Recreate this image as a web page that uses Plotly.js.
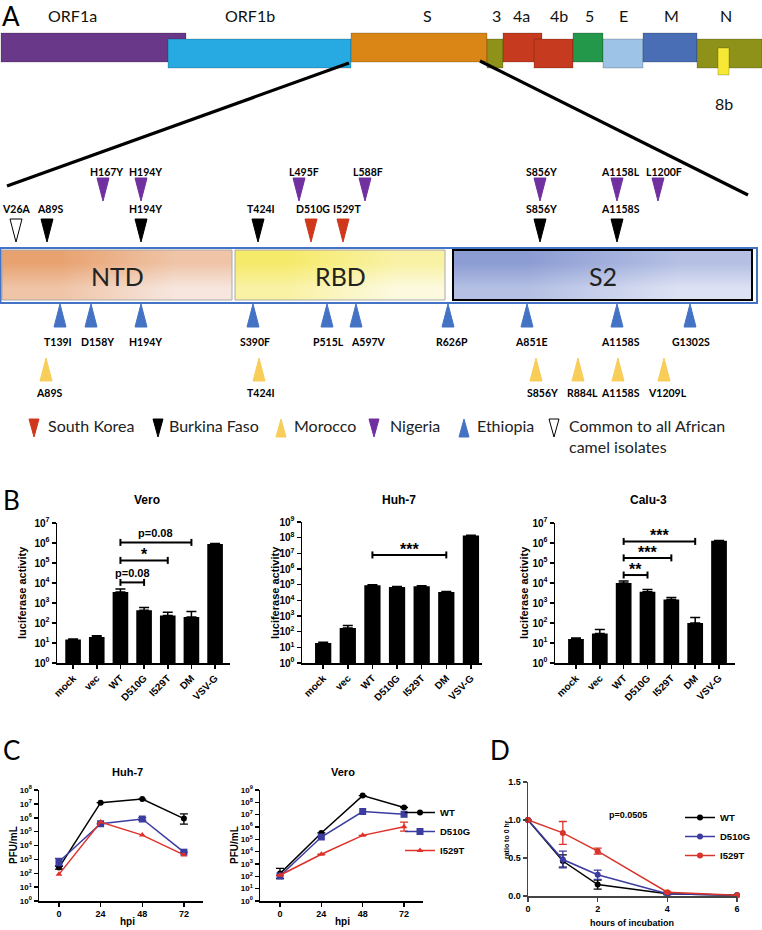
<!DOCTYPE html>
<html><head><meta charset="utf-8">
<script src="https://cdn.plot.ly/plotly-3.0.1.min.js"></script>
<style>body{margin:0;padding:0;background:#fff}#chart{width:762px;height:930px}</style>
</head><body><div id="chart"></div>
<script>
// ================= DATA =================
// Panel A: genome schematic (schematic units along the drawing)
const genes      = ['ORF1a','ORF1b','S','3','4a','4b','5','E','M','N','8b'];
const geneStart  = [1, 168, 351, 487, 503, 534, 573, 603, 643, 697, 718];
const geneEnd    = [186, 351, 487, 503, 542, 573, 603, 643, 697, 762, 729];
const geneRow    = [0, 1, 0, 1, 0, 1, 0, 1, 0, 1, 2];
const geneLabelX = [72, 250, 427, 496, 521, 559, 589, 623, 671, 726, 724];

// Spike domains (schematic units)
const domains     = ['NTD', 'RBD', 'S2'];
const domainStart = [2, 235, 453];
const domainEnd   = [232, 445, 752];

// Mutations by origin, with schematic positions (marker, label)
const nigeriaMuts  = ['H167Y','H194Y','L495F','L588F','S856Y','A1158L','L1200F'];
const nigeriaX     = [103, 141, 299, 365, 540, 617, 658];
const nigeriaLX    = [106, 145, 304, 368, 541, 620, 664];
const burkinaMuts  = ['A89S','H194Y','T424I','S856Y','A1158S'];
const burkinaX     = [47, 141, 258, 540, 617];
const burkinaLX    = [50, 145, 261, 541, 620];
const koreaMuts    = ['D510G','I529T'];
const koreaX       = [311, 343];
const koreaLX      = [313, 347];
const commonMuts   = ['V26A'];
const commonX      = [16];
const commonLX     = [16];
const ethiopiaMuts = ['T139I','D158Y','H194Y','S390F','P515L','A597V','R626P','A851E','A1158S','G1302S'];
const ethiopiaX    = [60, 91, 141, 253, 327, 356, 448, 527, 617, 690];
const ethiopiaLX   = [58, 97, 145, 255, 328, 368, 452, 531, 620, 691];
const moroccoMuts  = ['A89S','T424I','S856Y','R884L','A1158S','V1209L'];
const moroccoX     = [46, 259, 536, 578, 618, 664];
const moroccoLX    = [49, 261, 542, 582, 620, 667];

const legendNames = ['South Korea','Burkina Faso','Morocco','Nigeria','Ethiopia','Common to all African<br>camel isolates'];

// Panel B: luciferase activity
const bCats       = ['mock','vec','WT','D510G','I529T','DM','VSV-G'];
const veroLuc     = [15, 20, 3550, 430, 240, 200, 890000];
const veroLucErr  = [1, 3, 1450, 160, 100, 180, 50000];
const huhLuc      = [19, 170, 91000, 71000, 79000, 34000, 1.35e8];
const huhLucErr   = [2, 80, 8000, 6000, 6000, 3000, 1e7];
const caluLuc     = [16, 30, 10000, 3700, 1480, 100, 1.3e6];
const caluLucErr  = [2, 17, 2600, 1000, 420, 90, 50000];

const veroSigFrom = ['WT','WT','WT'];
const veroSigTo   = ['DM','I529T','D510G'];
const veroSigY    = [1.07e6, 1.35e5, 1.07e4];
const veroSigText = ['p=0.08','*','p=0.08'];
const huhSigFrom  = ['WT'];
const huhSigTo    = ['DM'];
const huhSigY     = [7.9e6];
const huhSigText  = ['***'];
const caluSigFrom = ['WT','WT','WT'];
const caluSigTo   = ['DM','I529T','D510G'];
const caluSigY    = [1.2e6, 1.8e5, 2.5e4];
const caluSigText = ['***','***','**'];

// Panel C: growth curves (PFU/mL)
const hpi        = [0, 24, 48, 72];
const huhWT      = [257, 1.23e7, 2.2e7, 8.7e5];
const huhWTUp    = [60, 0, 0, 1.03e6];
const huhWTDn    = [60, 0, 0, 5.2e5];
const huhD510G   = [680, 3.7e5, 8.1e5, 3300];
const huhD510GUp = [520, 0, 2.1e5, 0];
const huhD510GDn = [330, 0, 1.7e5, 0];
const huhI529T   = [83, 4.9e5, 5.6e4, 2100];
const veroWT      = [166, 3.3e5, 3.5e8, 3.8e7];
const veroWTUp    = [270, 0, 0, 0];
const veroWTDn    = [100, 0, 0, 0];
const veroD510G   = [107, 1.55e5, 1.8e7, 1.07e7];
const veroI529T   = [123, 6200, 2.1e5, 1.05e6];
const veroI529TUp = [0, 0, 0, 1.45e6];
const veroI529TDn = [0, 0, 0, 5.9e5];

// Panel D: stability
const incHours   = [0, 1, 2, 4, 6];
const dWT        = [1.0, 0.46, 0.15, 0.03, 0.01];
const dWTErr     = [0, 0.08, 0.06, 0.01, 0];
const dD510G     = [1.0, 0.48, 0.28, 0.03, 0.01];
const dD510GErr  = [0, 0.11, 0.06, 0.01, 0];
const dI529T     = [1.0, 0.83, 0.59, 0.05, 0.01];
const dI529TErr  = [0, 0.15, 0.04, 0.01, 0];

const logExp8 = [0,1,2,3,4,5,6,7,8];
const logExp9 = [0,1,2,3,4,5,6,7,8,9];
const logExp7 = [0,1,2,3,4,5,6,7];

// ================= STYLE / LAYOUT =================
const W = 762, H = 930;
const PX = v => v / W, PY = v => 1 - v / H;
const ARIAL = 'Liberation Sans, Arial, sans-serif';
const CAL = 'Lato, Carlito, sans-serif';
const geneColors = ['#6A3889','#27A9E1','#D98617','#8E9219','#C63A1F','#C63A1F','#23974A','#9DC3E6','#4A6EB5','#8E9219','#F6E834'];
const rowTop = [33, 39, 48], rowBot = [62, 68, 75];
const domainC0 = ['#E8A270','#F6EA6A','#8C9DD3'];
const domainC1 = ['#F6E6DE','#FCF9DE','#DCE1F3'];
const wtCol = '#000000', d5Col = '#3C3CA0', i5Col = '#E0302A';

const traces = [];
const shapes = [];
const annotations = [];

function ann(text, x, y, o) {
  annotations.push(Object.assign({text, x, y, xref:'x', yref:'y', showarrow:false,
    xanchor:'center', yanchor:'middle'}, o || {}));
}
function pann(text, x, y, o) {
  annotations.push(Object.assign({text, x: PX(x), y: PY(y), xref:'paper', yref:'paper', showarrow:false,
    xanchor:'center', yanchor:'middle', font:{family:ARIAL, size:11, weight:700, color:'#000'}}, o || {}));
}
function tri(xc, yTop, yBot, w, down) {
  return down ? `M${xc - w/2},${yTop} L${xc + w/2},${yTop} L${xc},${yBot} Z`
              : `M${xc - w/2},${yBot} L${xc + w/2},${yBot} L${xc},${yTop} Z`;
}

// ---- Panel A: genome bar
genes.forEach((g, i) => {
  const r = geneRow[i];
  shapes.push({type:'rect', xref:'x', yref:'y', x0: geneStart[i], x1: geneEnd[i], y0: rowTop[r], y1: rowBot[r],
    fillcolor: geneColors[i], line:{color:'rgba(0,0,0,0.25)', width:0.8}, layer:'above'});
  if (g === '8b') ann(g, geneLabelX[i], 103, {font:{family:CAL, size:16, color:'#111'}});
  else ann(g, geneLabelX[i], 15, {font:{family:CAL, size:16, color:'#111'}});
});
const sIdx = genes.indexOf('S');
shapes.push({type:'line', xref:'x', yref:'y', x0: geneStart[sIdx] - 2, y0: 63, x1: 7, y1: 186, line:{color:'#000', width:3.2}});
shapes.push({type:'line', xref:'x', yref:'y', x0: geneEnd[sIdx] - 7, y0: 61, x1: 748, y1: 195, line:{color:'#000', width:3.2}});

domains.forEach((d, i) => {
  const s = domainStart[i], e = domainEnd[i];
  traces.push({type:'heatmap', xaxis:'x', yaxis:'y', x:[s, (s + e) / 2, e], y:[250, 275, 300],
    z:[[0, 1], [1, 2]], zmin:0, zmax:2, zsmooth:'best', showscale:false, hoverinfo:'skip',
    colorscale:[[0, domainC0[i]], [1, domainC1[i]]]});
  shapes.push({type:'rect', xref:'x', yref:'y', x0:s, x1:e, y0:250, y1:300,
    line:{color: d === 'S2' ? '#000' : '#A8A8A8', width: d === 'S2' ? 2 : 1}, layer:'above'});
  ann(d, (s + e) / 2, 276, {font:{family:CAL, size:25, color:'#222'}});
});
shapes.push({type:'rect', xref:'x', yref:'y', x0: 0.5, x1: 757, y0: 248, y1: 303,
  line:{color:'#4472C4', width:2}, layer:'above'});

const mutRows = [
  {names: nigeriaMuts,  xs: nigeriaX,  lx: nigeriaLX,  fill:'#7030A0', down:true,  t:178, b:201, ly:172},
  {names: burkinaMuts,  xs: burkinaX,  lx: burkinaLX,  fill:'#000000', down:true,  t:219, b:242, ly:209},
  {names: koreaMuts,    xs: koreaX,    lx: koreaLX,    fill:'#D0381C', down:true,  t:219, b:242, ly:209},
  {names: commonMuts,   xs: commonX,   lx: commonLX,   fill:'#FFFFFF', down:true,  t:219, b:242, ly:209},
  {names: ethiopiaMuts, xs: ethiopiaX, lx: ethiopiaLX, fill:'#4472C4', down:false, t:304, b:327, ly:342},
  {names: moroccoMuts,  xs: moroccoX,  lx: moroccoLX,  fill:'#F8CD58', down:false, t:358, b:381, ly:393}
];
mutRows.forEach(r => {
  r.names.forEach((m, i) => {
    shapes.push({type:'path', xref:'x', yref:'y', path: tri(r.xs[i], r.t, r.b, 12, r.down),
      fillcolor: r.fill, line:{color: r.fill === '#FFFFFF' ? '#000' : r.fill, width: 1}, layer:'above'});
    ann(m, r.lx[i], r.ly, {font:{family:CAL, size:10.5, weight:700, color:'#000'}});
  });
});

const legTriX  = [34, 158, 281, 374, 464, 554];
const legTextX = [46, 167, 292, 388, 475, 567];
const legFill  = ['#D0381C','#000000','#F8CD58','#7030A0','#4472C4','#FFFFFF'];
const legDown  = [true, true, false, true, false, true];
legendNames.forEach((n, i) => {
  shapes.push({type:'path', xref:'x', yref:'y', path: tri(legTriX[i], 419, 437, 10, legDown[i]),
    fillcolor: legFill[i], line:{color: legFill[i] === '#FFFFFF' ? '#000' : legFill[i], width:1}});
  ann(n, legTextX[i], 414, {xanchor:'left', yanchor:'top', align:'left',
    font:{family:CAL, size:16, color:'#222'}});
});

pann('A', 11, 16, {font:{family:CAL, size:26, color:'#000'}});
pann('B', 11, 500, {font:{family:CAL, size:26, color:'#000'}});
pann('C', 11, 750, {font:{family:CAL, size:26, color:'#000'}});
pann('D', 500, 750, {font:{family:CAL, size:26, color:'#000'}});

// ---- axis helpers
const axBase = () => ({showline:true, linecolor:'#000', linewidth:1.5, ticks:'outside', ticklen:4,
  tickwidth:1.5, tickcolor:'#000', showgrid:false, zeroline:false, fixedrange:true,
  tickfont:{family:ARIAL, size:10, weight:700, color:'#000'}});
function logY(exps, domain, anchor, fs) {
  return Object.assign(axBase(), {type:'log', domain, anchor, range:[exps[0], exps[exps.length - 1]],
    tickvals: exps.map(e => Math.pow(10, e)), ticktext: exps.map(e => '10<sup>' + e + '</sup>'),
    tickfont:{family:ARIAL, size: fs || 10, weight:700, color:'#000'}});
}

const layout = {
  width: W, height: H, margin:{l:0, r:0, t:0, b:0}, paper_bgcolor:'#fff', plot_bgcolor:'rgba(0,0,0,0)',
  showlegend:true, hovermode:false, bargap:0.35,
  xaxis:{domain:[0, 1], range:[0, 762], visible:false, fixedrange:true},
  yaxis:{domain:[PY(480), 1], range:[480, 0], visible:false, fixedrange:true},
  shapes, annotations
};

// ---- Panel B
const bPanels = [
  {xa:'x2', ya:'y2', vals:veroLuc, err:veroLucErr, exps:logExp7, xd:[57, 230], yd:[663, 523], xr:[-0.68, 6.63],
   title:'Vero', tx:147, ytx:22, sf:veroSigFrom, st:veroSigTo, sy:veroSigY, stx:veroSigText},
  {xa:'x3', ya:'y3', vals:huhLuc, err:huhLucErr, exps:logExp9, xd:[302, 482], yd:[663, 522], xr:[-0.86, 6.45],
   title:'Huh-7', tx:399, ytx:275, sf:huhSigFrom, st:huhSigTo, sy:huhSigY, stx:huhSigText},
  {xa:'x4', ya:'y4', vals:caluLuc, err:caluLucErr, exps:logExp7, xd:[555, 735], yd:[663, 523], xr:[-0.88, 6.67],
   title:'Calu-3', tx:648, ytx:524, sf:caluSigFrom, st:caluSigTo, sy:caluSigY, stx:caluSigText}
];
bPanels.forEach(p => {
  const xn = 'xaxis' + p.xa.slice(1), yn = 'yaxis' + p.ya.slice(1);
  layout[xn] = Object.assign(axBase(), {type:'category', domain:[PX(p.xd[0]), PX(p.xd[1])], anchor:p.ya,
    range:p.xr, tickangle:-45, tickfont:{family:ARIAL, size:10, weight:700, color:'#000'}});
  layout[yn] = logY(p.exps, [PY(p.yd[0]), PY(p.yd[1])], p.xa, 10);
  traces.push({type:'bar', x:bCats, y:p.vals, xaxis:p.xa, yaxis:p.ya, width:0.66, showlegend:false,
    marker:{color:'#000'},
    error_y:{type:'data', symmetric:false, array:p.err, arrayminus:p.err.map(() => 0), color:'#000', thickness:1.5, width:5}});
  const pxPerDec = (p.yd[0] - p.yd[1]) / (p.exps[p.exps.length - 1] - p.exps[0]);
  const fk = Math.pow(10, 3.5 / pxPerDec);
  p.sf.forEach((f, i) => {
    const y = p.sy[i];
    traces.push({type:'scatter', mode:'lines', xaxis:p.xa, yaxis:p.ya, showlegend:false, cliponaxis:false,
      x:[f, f, null, f, p.st[i], null, p.st[i], p.st[i]],
      y:[y / fk, y * fk, null, y, y, null, y / fk, y * fk], line:{color:'#000', width:2}});
    const mid = (bCats.indexOf(f) + bCats.indexOf(p.st[i])) / 2;
    const star = p.stx[i].indexOf('*') === 0;
    annotations.push({text:p.stx[i], xref:p.xa, yref:p.ya, x:mid, y:Math.log10(y), showarrow:false,
      xanchor:'center', yanchor:'bottom', yshift: star ? -5 : 1,
      font:{family:ARIAL, size: star ? 16 : 11, weight:700, color:'#000'}});
  });
  pann(p.title, p.tx, 500, {font:{family:ARIAL, size:12, weight:700, color:'#000'}});
  pann('luciferase activity', p.ytx, 593, {textangle:-90, font:{family:ARIAL, size:11, weight:700, color:'#000'}});
});

// ---- Panel C
layout.xaxis5 = Object.assign(axBase(), {domain:[PX(39), PX(203)], anchor:'y5', range:[-11.5, 83],
  tickvals:hpi, tickfont:{family:ARIAL, size:9, weight:700, color:'#000'}});
layout.yaxis5 = logY(logExp8, [PY(901), PY(790)], 'x5', 8);
layout.xaxis6 = Object.assign(axBase(), {domain:[PX(260), PX(423)], anchor:'y6', range:[-11.6, 83],
  tickvals:hpi, tickfont:{family:ARIAL, size:9, weight:700, color:'#000'}});
layout.yaxis6 = logY(logExp9, [PY(901), PY(790)], 'x6', 8);

function growth(name, y, up, dn, col, sym, xa, ya, show) {
  const t = {type:'scatter', mode:'lines+markers', name, x:hpi, y, xaxis:xa, yaxis:ya, showlegend:show,
    cliponaxis:false, line:{color:col, width:1.5}, marker:{color:col, symbol:sym, size: sym === 'square' ? 7 : 6}};
  if (up) t.error_y = {type:'data', symmetric:false, array:up, arrayminus:dn, color:col, thickness:1.3, width:4};
  return t;
}
traces.push(growth('WT', huhWT, huhWTUp, huhWTDn, wtCol, 'circle', 'x5', 'y5', false));
traces.push(growth('D510G', huhD510G, huhD510GUp, huhD510GDn, d5Col, 'square', 'x5', 'y5', false));
traces.push(growth('I529T', huhI529T, null, null, i5Col, 'triangle-up', 'x5', 'y5', false));
traces.push(growth('WT', veroWT, veroWTUp, veroWTDn, wtCol, 'circle', 'x6', 'y6', true));
traces.push(growth('D510G', veroD510G, null, null, d5Col, 'square', 'x6', 'y6', true));
traces.push(growth('I529T', veroI529T, veroI529TUp, veroI529TDn, i5Col, 'triangle-up', 'x6', 'y6', true));

pann('Huh-7', 127, 772, {font:{family:ARIAL, size:11, weight:700, color:'#000'}});
pann('Vero', 343, 772, {font:{family:ARIAL, size:11, weight:700, color:'#000'}});
pann('PFU/mL', 13, 845, {textangle:-90, font:{family:ARIAL, size:10, weight:700, color:'#000'}});
pann('PFU/mL', 234, 845, {textangle:-90, font:{family:ARIAL, size:10, weight:700, color:'#000'}});
pann('hpi', 127, 921, {font:{family:ARIAL, size:10, weight:700, color:'#000'}});
pann('hpi', 342, 921, {font:{family:ARIAL, size:10, weight:700, color:'#000'}});

layout.legend = {x:PX(400), y:PY(798), xanchor:'left', yanchor:'top', bgcolor:'rgba(0,0,0,0)',
  font:{family:ARIAL, size:9.5, weight:700, color:'#000'}, itemwidth:30, tracegroupgap:0};

// ---- Panel D
layout.xaxis7 = Object.assign(axBase(), {domain:[PX(528), PX(737)], anchor:'y7', range:[0, 6],
  tickvals:[0, 2, 4, 6], linecolor:'#444', tickcolor:'#444', tickfont:{family:ARIAL, size:9, weight:700, color:'#000'}});
layout.yaxis7 = Object.assign(axBase(), {domain:[PY(896), PY(782)], anchor:'x7', range:[0, 1.5],
  tickvals:[0, 0.5, 1.0, 1.5], tickformat:'.1f', linecolor:'#444', tickcolor:'#444',
  tickfont:{family:ARIAL, size:9, weight:700, color:'#000'}});
function decay(name, y, err, col) {
  return {type:'scatter', mode:'lines+markers', name, x:incHours, y, xaxis:'x7', yaxis:'y7', legend:'legend2',
    cliponaxis:false, line:{color:col, width:1.5}, marker:{color:col, symbol:'circle', size:6},
    error_y:{type:'data', array:err, color:col, thickness:1.3, width:4}};
}
traces.push(decay('WT', dWT, dWTErr, wtCol));
traces.push(decay('D510G', dD510G, dD510GErr, d5Col));
traces.push(decay('I529T', dI529T, dI529TErr, '#D9342B'));
layout.legend2 = {x:PX(680), y:PY(803), xanchor:'left', yanchor:'top', bgcolor:'rgba(0,0,0,0)',
  font:{family:ARIAL, size:9.5, weight:700, color:'#000'}, itemwidth:30, tracegroupgap:0};
pann('p=0.0505', 628, 815, {font:{family:ARIAL, size:9, weight:700, color:'#000'}});
pann('ratio to 0 hr', 506, 840, {textangle:-90, font:{family:ARIAL, size:7, weight:700, color:'#000'}});
pann('hours of incubation', 632, 923, {font:{family:ARIAL, size:9, weight:700, color:'#000'}});

Plotly.newPlot('chart', traces, layout, {staticPlot:true, displayModeBar:false});
</script>
</body></html>
